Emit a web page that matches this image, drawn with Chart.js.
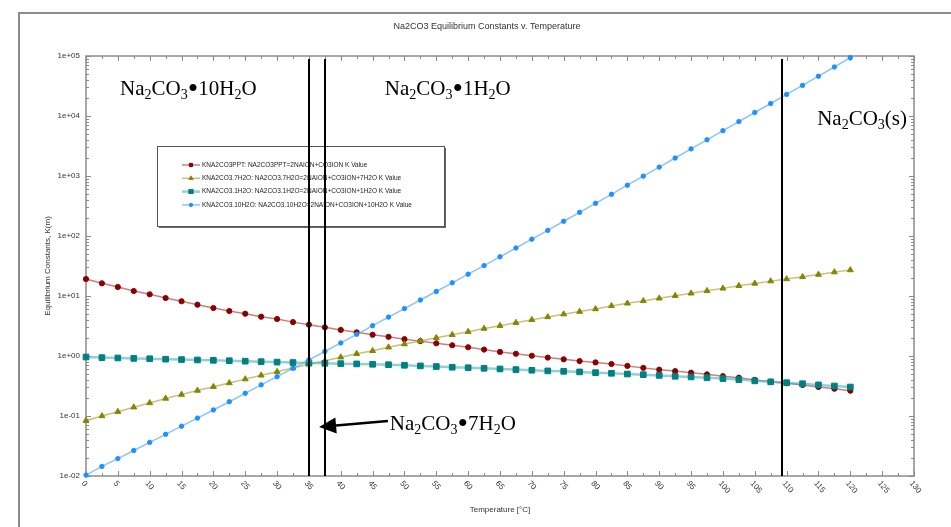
<!DOCTYPE html>
<html>
<head>
<meta charset="utf-8">
<title>Na2CO3 Equilibrium Constants v. Temperature</title>
<script src="https://cdn.jsdelivr.net/npm/chart.js@4.4.1/dist/chart.umd.min.js"></script>
<style>
  html, body { margin: 0; padding: 0; background: #fff; }
  #wrap { width: 951px; height: 527px; }
</style>
</head>
<body>
<div id="wrap"><canvas id="kChart" width="951" height="527"></canvas></div>
<script>
// ===== Data =====
const temps = [0, 2.5, 5, 7.5, 10, 12.5, 15, 17.5, 20, 22.5, 25, 27.5, 30, 32.5, 35, 37.5, 40,
  42.5, 45, 47.5, 50, 52.5, 55, 57.5, 60, 62.5, 65, 67.5, 70, 72.5, 75, 77.5, 80,
  82.5, 85, 87.5, 90, 92.5, 95, 97.5, 100, 102.5, 105, 107.5, 110, 112.5, 115, 117.5, 120];

const kPpt = [19.19, 16.29, 14.13, 12.11, 10.67, 9.27, 8.17, 7.16, 6.31, 5.62, 5.07, 4.52, 4.14,
  3.67, 3.33, 3.01, 2.72, 2.48, 2.26, 2.09, 1.91, 1.77, 1.63, 1.51, 1.40, 1.28, 1.17, 1.09,
  1.01, 0.940, 0.881, 0.822, 0.782, 0.736, 0.684, 0.634, 0.592, 0.560, 0.527, 0.495, 0.461,
  0.435, 0.400, 0.373, 0.351, 0.329, 0.305, 0.285, 0.264];

const k7H2O = [0.0836, 0.100, 0.118, 0.140, 0.165, 0.196, 0.228, 0.266, 0.308, 0.355, 0.412,
  0.476, 0.547, 0.631, 0.728, 0.832, 0.955, 1.09, 1.22, 1.40, 1.58, 1.78, 2.01, 2.26, 2.54,
  2.87, 3.20, 3.59, 4.01, 4.47, 4.98, 5.50, 6.07, 6.84, 7.55, 8.28, 9.16, 10.1, 11.1, 12.2,
  13.4, 14.8, 16.2, 17.7, 19.2, 20.9, 22.8, 25.0, 27.1];

const k1H2O = [0.962, 0.940, 0.927, 0.912, 0.900, 0.885, 0.871, 0.859, 0.847, 0.834, 0.820,
  0.805, 0.791, 0.778, 0.766, 0.755, 0.746, 0.738, 0.728, 0.716, 0.700, 0.684, 0.667, 0.650,
  0.637, 0.624, 0.608, 0.593, 0.579, 0.565, 0.555, 0.543, 0.528, 0.515, 0.501, 0.489, 0.475,
  0.459, 0.448, 0.435, 0.420, 0.404, 0.385, 0.371, 0.359, 0.345, 0.330, 0.316, 0.304];

const k10H2O = [0.01035, 0.01445, 0.0195, 0.0266, 0.0363, 0.0495, 0.0676, 0.0923, 0.126, 0.173,
  0.239, 0.330, 0.452, 0.624, 0.861, 1.19, 1.65, 2.30, 3.20, 4.45, 6.17, 8.57, 11.9, 16.6,
  23.1, 32.1, 45.0, 63.1, 88.5, 124, 176, 248, 351, 495, 703, 995, 1406, 1995, 2831, 4009,
  5689, 8072, 11429, 16144, 22909, 32359, 46026, 65615, 93756];

const seriesLabels = [
  "KNA2CO3PPT: NA2CO3PPT=2NAION+CO3ION K Value",
  "KNA2CO3.7H2O: NA2CO3.7H2O=2NAION+CO3ION+7H2O K Value",
  "KNA2CO3.1H2O: NA2CO3.1H2O=2NAION+CO3ION+1H2O K Value",
  "KNA2CO3.10H2O: NA2CO3.10H2O=2NAION+CO3ION+10H2O K Value"
];

const xTicks = [0, 5, 10, 15, 20, 25, 30, 35, 40, 45, 50, 55, 60, 65, 70, 75, 80, 85, 90, 95,
  100, 105, 110, 115, 120, 125, 130];
const yTicks = [0.01, 0.1, 1, 10, 100, 1000, 10000, 100000];
const yTickLabels = ["1e-02", "1e-01", "1e+00", "1e+01", "1e+02", "1e+03", "1e+04", "1e+05"];

// phase boundaries (temperature, °C)
const phaseLines = [35, 37.5, 109.2];

// ===== Styles =====
const AXIS = "#8a8a8a";
const SANS = '"Liberation Sans", Arial, sans-serif';
const SERIF = '"Liberation Serif", "Times New Roman", serif';

const styles = [
  { marker: "#8b0000", line: "rgba(170,60,60,0.65)", shape: "circle", r: 2.6, w: 1.5 },
  { marker: "#858500", line: "rgba(180,180,90,0.8)", shape: "triangle", r: 3.4, w: 1.5 },
  { marker: "#008080", line: "rgba(80,175,175,0.6)", shape: "rect", r: 4.0, w: 2.5 },
  { marker: "#1e90ff", line: "rgba(100,175,255,0.75)", shape: "circle", r: 2.2, w: 1.5 }
];

const seriesValues = [kPpt, k7H2O, k1H2O, k10H2O];

const datasets = seriesValues.map((vals, i) => ({
  label: seriesLabels[i],
  data: temps.map((t, j) => ({ x: t, y: vals[j] })),
  borderColor: styles[i].line,
  borderWidth: styles[i].w,
  pointStyle: styles[i].shape,
  pointRadius: styles[i].r,
  pointBackgroundColor: styles[i].marker,
  pointBorderColor: styles[i].marker,
  pointBorderWidth: 1,
  tension: 0,
  clip: false,
  order: [3, 2, 1, 0][i]
}));

// chemical formula, "_" puts the next char in subscript
function drawFormula(ctx, text, x, yMid, size) {
  const base = yMid + size * 0.34;
  let cx = x;
  ctx.fillStyle = "#000";
  ctx.textAlign = "left";
  ctx.textBaseline = "alphabetic";
  for (let i = 0; i < text.length; i++) {
    let ch = text[i];
    if (ch === "_") {
      ch = text[++i];
      ctx.font = `${Math.round(size * 0.66)}px ${SERIF}`;
      ctx.fillText(ch, cx, base + size * 0.2);
    } else if (ch === "•") {
      // bigger dot, like the reference
      ctx.font = `${Math.round(size * 1.45)}px ${SERIF}`;
      ctx.fillText(ch, cx, base + size * 0.12);
    } else {
      ctx.font = `${size}px ${SERIF}`;
      ctx.fillText(ch, cx, base);
    }
    cx += ctx.measureText(ch).width;
  }
}

const phaseNotes = [
  { text: "Na_2CO_3•10H_2O", t: 5.35, k: 29300 },
  { text: "Na_2CO_3•1H_2O", t: 46.9, k: 29300 },
  { text: "Na_2CO_3(s)", t: 114.8, k: 9270 },
  { text: "Na_2CO_3•7H_2O", t: 47.7, k: 0.0764 }
];
const arrowFrom = { t: 47.4, k: 0.0826 };
const arrowTo = { t: 36.6, k: 0.0656 };

const framePlugin = {
  id: "frame",
  beforeDatasetsDraw(chart) {
    const { ctx, chartArea: a, scales: { x, y } } = chart;
    ctx.save();

    // outer gray frame (top + left edges visible)
    ctx.strokeStyle = "#8c8c8c";
    ctx.lineWidth = 2;
    ctx.strokeRect(19, 13, 960, 540);

    // title
    ctx.fillStyle = "#333";
    ctx.font = `9px ${SANS}`;
    ctx.textAlign = "center";
    ctx.textBaseline = "middle";
    ctx.fillText("Na2CO3 Equilibrium Constants v. Temperature", 487, 27);

    // plot border
    ctx.strokeStyle = AXIS;
    ctx.lineWidth = 1.5;
    ctx.strokeRect(a.left, a.top, a.right - a.left, a.bottom - a.top);

    // x ticks, inside on bottom and top
    ctx.lineWidth = 1;
    ctx.beginPath();
    for (let v = 0; v <= 130; v += 2.5) {
      const px = Math.round(x.getPixelForValue(v)) + 0.5;
      const len = v % 5 === 0 ? 5 : 3;
      ctx.moveTo(px, a.bottom); ctx.lineTo(px, a.bottom - len);
      ctx.moveTo(px, a.top); ctx.lineTo(px, a.top + len);
    }
    // y ticks (log), inside on left and right
    for (let e = -2; e <= 5; e++) {
      for (let m = 1; m <= 9; m++) {
        const v = m * Math.pow(10, e);
        if (v > 100000) break;
        const py = Math.round(y.getPixelForValue(v)) + 0.5;
        const len = m === 1 ? 5 : 3;
        ctx.moveTo(a.left, py); ctx.lineTo(a.left + len, py);
        ctx.moveTo(a.right, py); ctx.lineTo(a.right - len, py);
      }
    }
    ctx.stroke();

    // y tick labels
    ctx.fillStyle = "#333";
    ctx.font = `8px ${SANS}`;
    ctx.textAlign = "right";
    ctx.textBaseline = "middle";
    yTicks.forEach((v, i) => ctx.fillText(yTickLabels[i], a.left - 6, y.getPixelForValue(v)));

    // x tick labels, rotated down-right
    ctx.textAlign = "left";
    xTicks.forEach(v => {
      ctx.save();
      ctx.translate(x.getPixelForValue(v) - 3, a.bottom + 6);
      ctx.rotate(50 * Math.PI / 180);
      ctx.fillText(String(v), 0, 0);
      ctx.restore();
    });

    // axis titles
    ctx.textAlign = "center";
    ctx.fillText("Temperature [°C]", (a.left + a.right) / 2, 510);
    ctx.save();
    ctx.translate(48, (a.top + a.bottom) / 2);
    ctx.rotate(-Math.PI / 2);
    ctx.fillText("Equilibrium Constants, K(m)", 0, 0);
    ctx.restore();

    // legend box with shadow
    const lx = 157, ly = 146, lw = 287, lh = 80;
    ctx.fillStyle = "#666";
    ctx.fillRect(lx + 2, ly + 2, lw, lh);
    ctx.fillStyle = "#fff";
    ctx.fillRect(lx, ly, lw, lh);
    ctx.strokeStyle = "#555";
    ctx.lineWidth = 1;
    ctx.strokeRect(lx + 0.5, ly + 0.5, lw, lh);

    ctx.font = `6.5px ${SANS}`;
    ctx.textAlign = "left";
    ctx.textBaseline = "middle";
    seriesLabels.forEach((lab, i) => {
      const ry = 165 + i * 13.3;
      const s = styles[i];
      ctx.strokeStyle = s.line;
      ctx.lineWidth = s.w;
      ctx.beginPath();
      ctx.moveTo(182, ry); ctx.lineTo(200, ry);
      ctx.stroke();
      ctx.fillStyle = s.marker;
      Chart.helpers.drawPoint(ctx, { pointStyle: s.shape, radius: s.r * 0.85, borderWidth: 0 }, 191, ry);
      ctx.fill();
      ctx.fillStyle = "#222";
      ctx.fillText(lab, 202, ry);
    });

    ctx.restore();
  },
  afterDatasetsDraw(chart) {
    const { ctx, chartArea: a, scales: { x, y } } = chart;
    ctx.save();

    // phase boundary lines
    ctx.strokeStyle = "#000";
    ctx.lineWidth = 2;
    ctx.beginPath();
    phaseLines.forEach(t => {
      const px = Math.round(x.getPixelForValue(t));
      ctx.moveTo(px, a.top + 3);
      ctx.lineTo(px, a.bottom);
    });
    ctx.stroke();

    // phase labels
    phaseNotes.forEach(n => drawFormula(ctx, n.text, x.getPixelForValue(n.t), y.getPixelForValue(n.k), 21));

    // arrow to the 7H2O band
    const x0 = x.getPixelForValue(arrowFrom.t), y0 = y.getPixelForValue(arrowFrom.k);
    const x1 = x.getPixelForValue(arrowTo.t), y1 = y.getPixelForValue(arrowTo.k);
    const ang = Math.atan2(y1 - y0, x1 - x0);
    const hl = 17, hw = 8;
    const bx = x1 - hl * Math.cos(ang), by = y1 - hl * Math.sin(ang);
    ctx.lineWidth = 2.5;
    ctx.beginPath();
    ctx.moveTo(x0, y0); ctx.lineTo(bx, by);
    ctx.stroke();
    ctx.fillStyle = "#000";
    ctx.beginPath();
    ctx.moveTo(x1, y1);
    ctx.lineTo(bx + hw * Math.sin(ang), by - hw * Math.cos(ang));
    ctx.lineTo(bx - hw * Math.sin(ang), by + hw * Math.cos(ang));
    ctx.closePath();
    ctx.fill();

    ctx.restore();
  }
};

const kChart = new Chart(document.getElementById("kChart"), {
  type: "line",
  data: { datasets },
  options: {
    responsive: false,
    animation: false,
    layout: { padding: { left: 86, top: 56, right: 37, bottom: 51 } },
    scales: {
      x: { type: "linear", min: 0, max: 130, display: false },
      y: { type: "logarithmic", min: 0.01, max: 100000, display: false }
    },
    plugins: {
      legend: { display: false },
      tooltip: { enabled: false }
    }
  },
  plugins: [framePlugin]
});
</script>
</body>
</html>
